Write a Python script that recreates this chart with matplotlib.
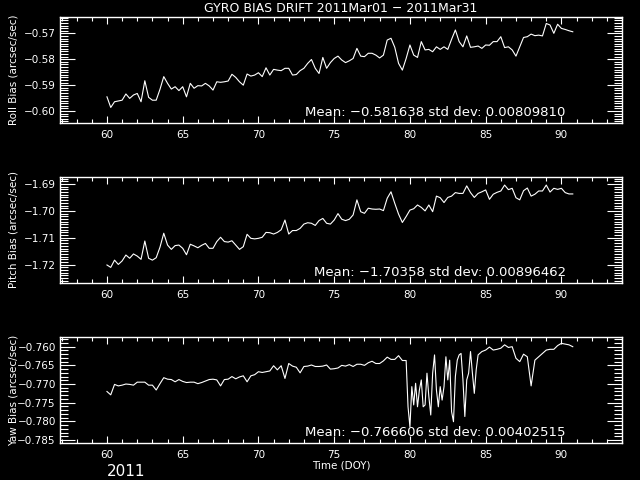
import numpy as np
import matplotlib
matplotlib.use("Agg")
from matplotlib import pyplot as plt
from matplotlib.ticker import MultipleLocator, FuncFormatter

# roll bias, one sample every 0.25 day from DOY 60.0
roll = [-0.5945, -0.5986, -0.5964, -0.5961, -0.5958, -0.5934, -0.5951, -0.5938, -0.5932, -0.5964,
        -0.5883, -0.5947, -0.5958, -0.5958, -0.5916, -0.5867, -0.5893, -0.5915, -0.5906, -0.5921,
        -0.5906, -0.5945, -0.5893, -0.5912, -0.5902, -0.5903, -0.5893, -0.5903, -0.5919, -0.5887,
        -0.5889, -0.5887, -0.5884, -0.5858, -0.5870, -0.5887, -0.5900, -0.5857, -0.5865, -0.5861,
        -0.5852, -0.5867, -0.5833, -0.5861, -0.5839, -0.5842, -0.5844, -0.5835, -0.5835, -0.5861,
        -0.5859, -0.5844, -0.5835, -0.5816, -0.5801, -0.5835, -0.5855, -0.5793, -0.5835, -0.5813,
        -0.5797, -0.5788,
        -0.5803, -0.5813, -0.5806, -0.5797, -0.5758, -0.5788, -0.5790, -0.5777, -0.5777, -0.5784,
        -0.5795, -0.5784, -0.5726, -0.5719, -0.5754, -0.5816, -0.5842, -0.5797, -0.5745, -0.5784,
        -0.5793, -0.5732, -0.5764, -0.5762, -0.5771, -0.5752, -0.5762, -0.5752, -0.5762, -0.5723,
        -0.5687, -0.5732, -0.5752, -0.5710, -0.5754, -0.5752, -0.5749, -0.5758, -0.5745, -0.5746,
        -0.5732, -0.5732, -0.5713, -0.5755, -0.5752, -0.5764, -0.5788, -0.5752, -0.5716, -0.5713,
        -0.5703, -0.5709, -0.5707, -0.5710, -0.5662, -0.5668, -0.5700, -0.5665, -0.5681, -0.5685,
        -0.5690, -0.5694]

pitch = [-1.7201, -1.7210, -1.7183, -1.7199, -1.7186, -1.7164, -1.7176, -1.7160, -1.7168, -1.7180,
         -1.7112, -1.7176, -1.7183, -1.7174, -1.7135, -1.7083, -1.7127, -1.7143, -1.7129, -1.7127,
         -1.7139, -1.7163, -1.7124, -1.7130, -1.7137, -1.7128, -1.7121, -1.7139, -1.7139, -1.7114,
         -1.7098, -1.7114, -1.7116, -1.7111, -1.7127, -1.7143, -1.7133, -1.7087, -1.7102, -1.7104,
         -1.7102, -1.7098, -1.7080, -1.7081, -1.7086, -1.7080, -1.7070, -1.7034, -1.7086, -1.7073,
         -1.7073, -1.7065, -1.7049, -1.7044, -1.7046, -1.7054, -1.7036, -1.7028, -1.7046, -1.7049,
         -1.7034, -1.7010,
         -1.7031, -1.7036, -1.7031, -1.7015, -1.6959, -1.7003, -1.7009, -1.6990, -1.6993, -1.6994,
         -1.6993, -1.6999, -1.6953, -1.6929, -1.6972, -1.7012, -1.7043, -1.7021, -1.6997, -1.6992,
         -1.6978, -1.6987, -1.7000, -1.6978, -1.7003, -1.6945, -1.6951, -1.6969, -1.6950, -1.6945,
         -1.6932, -1.6935, -1.6935, -1.6907, -1.6932, -1.6950, -1.6935, -1.6929, -1.6922, -1.6957,
         -1.6938, -1.6931, -1.6926, -1.6904, -1.6921, -1.6916, -1.6951, -1.6959, -1.6925, -1.6915,
         -1.6945, -1.6938, -1.6926, -1.6926, -1.6904, -1.6930, -1.6916, -1.6920, -1.6916, -1.6932,
         -1.6937, -1.6937]

# yaw: quarter-day samples, with eighth-day samples over the noisy stretch (DOY 79.875-84.375)
yaw_early = [-0.7720, -0.7729, -0.7701, -0.7705, -0.7703, -0.7700, -0.7701, -0.7703, -0.7695, -0.7695,
             -0.7695, -0.7703, -0.7703, -0.7716, -0.7699, -0.7683, -0.7687, -0.7688, -0.7694, -0.7688,
             -0.7693, -0.7696, -0.7695, -0.7695, -0.7699, -0.7696, -0.7692, -0.7688, -0.7687, -0.7689,
             -0.7705, -0.7688, -0.7687, -0.7680, -0.7686, -0.7681, -0.7678, -0.7694, -0.7678, -0.7675,
             -0.7667, -0.7669, -0.7667, -0.7665, -0.7651, -0.7662, -0.7651, -0.7685, -0.7645, -0.7652,
             -0.7655, -0.7670, -0.7653, -0.7652, -0.7649, -0.7653, -0.7653, -0.7652, -0.7649, -0.7660,
             -0.7659, -0.7657,
             -0.7650, -0.7652, -0.7648, -0.7653, -0.7647, -0.7647, -0.7650, -0.7643, -0.7639, -0.7645,
             -0.7645, -0.7638, -0.7628, -0.7634, -0.7634, -0.7624, -0.7637, -0.7637]
yaw_burst = [-0.7761, -0.7815, -0.7707, -0.7756, -0.7698, -0.7761, -0.7716, -0.7689, -0.7761, -0.7756,
             -0.7671, -0.7734, -0.7783, -0.7671, -0.7622, -0.7716, -0.7761, -0.7707, -0.7743, -0.7707,
             -0.7627, -0.7689, -0.7636, -0.7774, -0.7801, -0.7680, -0.7636, -0.7622, -0.7618, -0.7689,
             -0.7787, -0.7689, -0.7671, -0.7613, -0.7671, -0.7725, -0.7662]
yaw_late = [-0.7622, -0.7613, -0.7609, -0.7601, -0.7609, -0.7607, -0.7604, -0.7595, -0.7602, -0.7600,
            -0.7631, -0.7640, -0.7620, -0.7627, -0.7705, -0.7636, -0.7627, -0.7618, -0.7609, -0.7607,
            -0.7607, -0.7597, -0.7591, -0.7593, -0.7595, -0.7600]

doy = 60.0 + 0.25 * np.arange(len(roll))
yaw_doy = np.concatenate([60.0 + 0.25 * np.arange(len(yaw_early)),
                          79.875 + 0.125 * np.arange(len(yaw_burst)),
                          84.5 + 0.25 * np.arange(len(yaw_late))])
yaw = yaw_early + yaw_burst + yaw_late

panels = [
    (doy, roll, "Roll Bias (arcsec/sec)", (-0.6046, -0.5637), 0.01, "%.2f",
     "Mean: \u22120.581638 std dev: 0.00809810"),
    (doy, pitch, "Pitch Bias (arcsec/sec)", (-1.7268, -1.6874), 0.01, "%.2f",
     "Mean: \u22121.70358 std dev: 0.00896462"),
    (yaw_doy, yaw, "Yaw Bias (arcsec/sec)", (-0.7858, -0.7574), 0.005, "%.3f",
     "Mean: \u22120.766606 std dev: 0.00402515"),
]

plt.rcParams['font.family'] = ['DejaVu Sans']
fig = plt.figure(figsize=(6.4, 4.8), dpi=100, facecolor='black')

bottoms = [1 - 123 / 480, 1 - 283 / 480, 1 - 443 / 480]
for (x, y, ylab, ylim, major, fmt, stats), b in zip(panels, bottoms):
    ax = fig.add_axes([60 / 640, b, 562 / 640, 106 / 480])
    ax.set_facecolor('black')
    ax.plot(x, y, color='white', lw=0.8)
    ax.set_xlim(56.9, 94.0)
    ax.set_ylim(*ylim)
    ax.xaxis.set_major_locator(MultipleLocator(5))
    ax.xaxis.set_minor_locator(MultipleLocator(1))
    ax.yaxis.set_major_locator(MultipleLocator(major))
    ax.yaxis.set_minor_locator(MultipleLocator(0.001))
    ax.yaxis.set_major_formatter(FuncFormatter(lambda v, p, f=fmt: (f % v).replace('-', '\u2212')))
    for s in ax.spines.values():
        s.set_color('white')
        s.set_linewidth(1)
    ax.tick_params(which='both', direction='in', colors='white', top=True, right=True,
                   labelsize=7.5, width=0.8)
    ax.tick_params(axis='y', which='major', length=11, pad=3)
    ax.tick_params(axis='y', which='minor', length=6)
    ax.tick_params(axis='x', which='major', length=5, pad=5)
    ax.tick_params(axis='x', which='minor', length=3)
    ax.text(0.9, 0.1, stats, transform=ax.transAxes, ha='right', va='center',
            color='white', fontsize=9.5)
    fig.text(14 / 640, b + 53 / 480, ylab, rotation=90, ha='center', va='center',
             color='white', fontsize=7.5)

fig.text(341 / 640, 1 - 9 / 480, "GYRO BIAS DRIFT 2011Mar01 \u2212 2011Mar31",
         ha='center', va='center', color='white', fontsize=9)
fig.text(341 / 640, 1 - 465 / 480, "Time (DOY)", ha='center', va='center',
         color='white', fontsize=7.5)
fig.text(107 / 640, 1 - 472 / 480, "2011", ha='left', va='center',
         color='white', fontsize=11)

fig.savefig('out.png', dpi=100, facecolor='black')
